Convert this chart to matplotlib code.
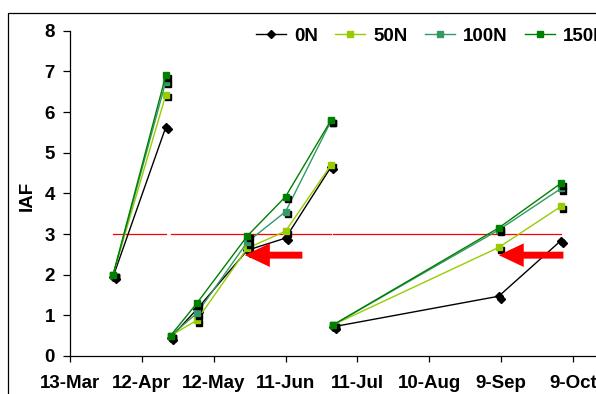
import numpy as np
import pandas as pd
import matplotlib
matplotlib.use('Agg')
import matplotlib.pyplot as plt
import matplotlib.transforms as mtransforms
from matplotlib.patches import Rectangle

plt.rcParams['font.family'] = ['Liberation Sans', 'DejaVu Sans']
plt.rcParams['font.weight'] = 'bold'
plt.rcParams['font.size'] = 13.5

YEAR = 2007

# sampling dates, one list per growth cycle
cycle_dates = [['31-Mar', '22-Apr'],
               ['24-Apr', '5-May', '26-May', '11-Jun', '30-Jun'],
               ['1-Jul', '8-Sep', '4-Oct']]

# IAF per treatment, same cycle layout
iaf_0N   = [[1.95, 5.63], [0.45, 1.15, 2.60, 2.90, 4.65], [0.72, 1.47, 2.84]]
iaf_50N  = [[2.00, 6.42], [0.50, 0.88, 2.65, 3.07, 4.70], [0.77, 2.67, 3.68]]
iaf_100N = [[2.00, 6.75], [0.50, 1.05, 2.80, 3.55, 5.78], [0.77, 3.10, 4.12]]
iaf_150N = [[2.00, 6.90], [0.50, 1.30, 2.95, 3.92, 5.80], [0.77, 3.15, 4.25]]

threshold = 3.0

# arrows pointing at the threshold crossing
arrow_tips  = ['25-May', '8-Sep']
arrow_tails = ['18-Jun', '5-Oct']
arrow_y = 2.48

tick_labels = ['13-Mar', '12-Apr', '12-May', '11-Jun', '11-Jul', '10-Aug', '9-Sep', '9-Oct', '8-Nov']


def to_date(s):
    return pd.to_datetime(f'{s}-{YEAR}', format='%d-%b-%Y')


def join_cycles(dates, values):
    # put a NaN between cycles so the line breaks
    xs, ys = [], []
    for d, v in zip(dates, values):
        if xs:
            xs.append(to_date(d[0]))
            ys.append(np.nan)
        xs += [to_date(s) for s in d]
        ys += list(v)
    return xs, ys


W, H, DPI = 596, 394, 100
fig = plt.figure(figsize=(W / DPI, H / DPI), dpi=DPI)

x0 = to_date(tick_labels[0])
x1 = to_date(tick_labels[-1])
px_per_day = (573 - 70) / 210.0
ax_w = (x1 - x0).days * px_per_day
ax = fig.add_axes([70 / W, (H - 356) / H, ax_w / W, (356 - 30.7) / H])

# outer chart-area frame (cropped at right and bottom)
fig.add_artist(Rectangle((8 / W, -0.2), 1.2, 1.2 - 13 / H, fill=False,
                         lw=0.9, ec='black', transform=fig.transFigure))

# threshold line
for d in cycle_dates:
    ax.plot([to_date(d[0]), to_date(d[-1])], [threshold, threshold],
            color='#FF0000', lw=0.9, zorder=1)

shadow = ax.transData + mtransforms.ScaledTranslation(2.4 / DPI, -2.4 / DPI, fig.dpi_scale_trans)

series = [('0N', iaf_0N, 'black', 'D', 4.2),
          ('50N', iaf_50N, '#99CC00', 's', 5),
          ('100N', iaf_100N, '#339966', 's', 5),
          ('150N', iaf_150N, '#008000', 's', 5)]

z = 2
for name, vals, col, mk, ms in series:
    xs, ys = join_cycles(cycle_dates, vals)
    ax.plot(xs, ys, ls='none', marker=mk, ms=ms, color='black',
            mec='black', transform=shadow, zorder=z)
    ax.plot(xs, ys, color=col, lw=1, marker=mk, ms=ms, mec=col,
            mfc=col, label=name, zorder=z + 1)
    z += 2

for tip, tail in zip(arrow_tips, arrow_tails):
    ax.annotate('', xy=(to_date(tip), arrow_y), xytext=(to_date(tail), arrow_y),
                arrowprops=dict(arrowstyle='simple,head_length=18,head_width=17,tail_width=5',
                                mutation_scale=1, color='#FF0000', lw=0,
                                shrinkA=0, shrinkB=0), zorder=20)

ax.set_xlim(x0, x1)
ax.set_ylim(0, 8)
ax.set_yticks(range(0, 9))
ax.set_xticks([to_date(s) for s in tick_labels])
ax.set_xticklabels(tick_labels)

for s in ['top', 'right']:
    ax.spines[s].set_visible(False)
for s in ['left', 'bottom']:
    ax.spines[s].set_linewidth(0.9)
ax.tick_params(axis='y', direction='out', length=4.8, width=0.9, pad=6)
ax.tick_params(axis='x', direction='out', length=4.5, width=0.9, pad=9)
ax.patch.set_visible(False)

fig.text(27 / W, 1 - 196 / H, 'IAF', rotation=90, ha='center', va='center',
         fontweight='bold', fontsize=13.5)

ax.legend(loc='center left', bbox_to_anchor=(256 / W, 1 - 36 / H),
          bbox_transform=fig.transFigure, ncol=4, frameon=False,
          borderpad=0, borderaxespad=0, handlelength=1.6, handletextpad=0.45,
          columnspacing=0.9, numpoints=1)

fig.savefig('out.png', dpi=DPI)
